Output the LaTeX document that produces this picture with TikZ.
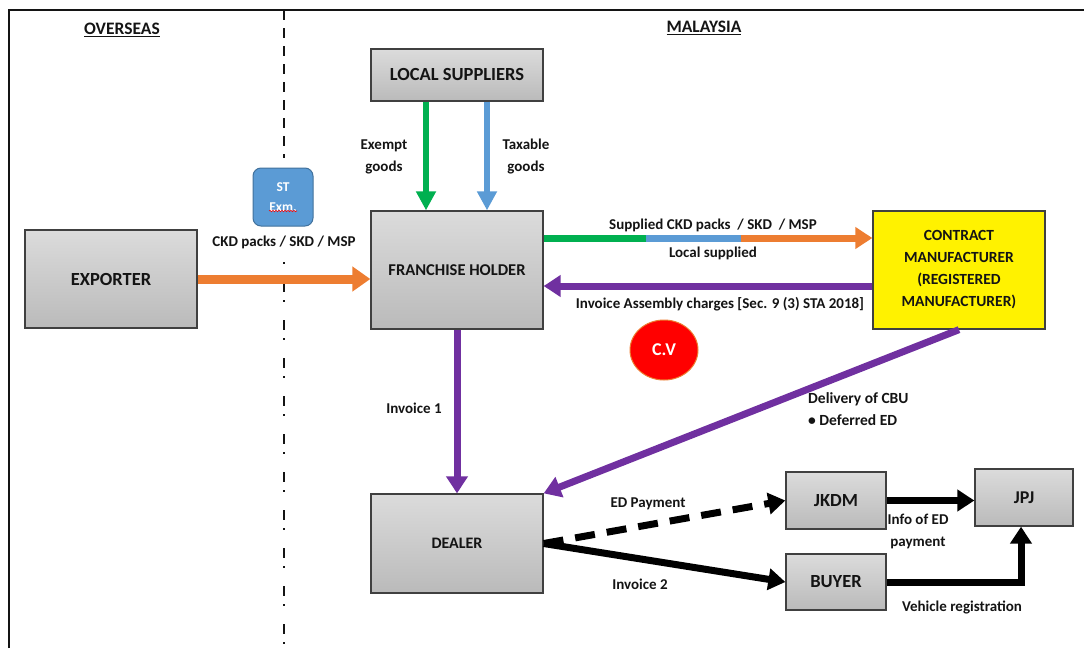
\documentclass[tikz,border=0pt]{standalone}
\usepackage{fontspec}
\setmainfont{Carlito}
\usetikzlibrary{arrows.meta,shapes.geometric,decorations.pathmorphing}

\definecolor{arrorange}{HTML}{ED7D31}
\definecolor{arrgreen}{HTML}{00B050}
\definecolor{arrblue}{HTML}{5B9BD5}
\definecolor{arrpurple}{HTML}{7030A0}
\definecolor{boxline}{HTML}{404040}
\definecolor{stline}{HTML}{41719C}
\definecolor{txt}{HTML}{141414}

\tikzset{
  box/.style={draw=boxline, line width=1.3pt, text=txt, align=center,
    font=\fontsize{16.5}{22}\selectfont\bfseries},
  greybox/.style={box, top color=black!14, bottom color=black!27},
  lbl/.style={text=txt, align=center, inner sep=1pt,
    font=\fontsize{15}{22}\selectfont\bfseries},
  head/.style={text=txt, font=\fontsize{17.5}{20}\selectfont\bfseries},
  fat/.style={line width=7pt, -{Triangle[width=21pt,length=17pt]}},
  thin arrow/.style={line width=6pt, -{Triangle[width=19pt,length=19pt]}}
}

\begin{document}
\begin{tikzpicture}[x=1pt,y=-1pt]
\useasboundingbox (0,0) rectangle (1084,648);
%\draw[step=50,gray,very thin] (0,0) grid (1084,648);

% frame and border line
\draw[line width=1.8pt, txt] (9,648) -- (9,10) -- (1084,10);
\draw[line width=2pt, txt, dash pattern=on 10pt off 8pt] (284,10) -- (284,158);
\draw[line width=2pt, txt, dash pattern=on 2pt off 18pt on 10pt off 8pt] (284,262) -- (284,648);

\node[head] (overseas) at (122,30) {\underline{OVERSEAS}};
\node[head] (malaysia) at (704,28) {\underline{MALAYSIA}};

% boxes
\node[greybox, minimum width=172pt, minimum height=98pt, font=\fontsize{18.5}{22}\selectfont\bfseries] (exporter) at (111,279) {EXPORTER};
\node[greybox, minimum width=172pt, minimum height=52pt, font=\fontsize{18.5}{22}\selectfont\bfseries] (locsup) at (457,75) {LOCAL SUPPLIERS};
\node[greybox, minimum width=172pt, minimum height=118pt] (franchise) at (457,270) {FRANCHISE HOLDER};
\node[box, fill=yellow, minimum width=172pt, minimum height=118pt, font=\fontsize{15.5}{22}\selectfont\bfseries] (contract) at (959,270) {CONTRACT\\MANUFACTURER\\(REGISTERED\\MANUFACTURER)};
\node[greybox, minimum width=172pt, minimum height=99pt, font=\fontsize{16}{22}\selectfont\bfseries] (dealer) at (457,543.5) {DEALER};
\node[greybox, minimum width=100pt, minimum height=57pt, font=\fontsize{18.5}{22}\selectfont\bfseries] (jkdm) at (836,500.5) {JKDM};
\node[greybox, minimum width=100pt, minimum height=56pt, font=\fontsize{18.5}{22}\selectfont\bfseries] (buyer) at (836,582) {BUYER};
\node[greybox, minimum width=98pt, minimum height=57pt, font=\fontsize{18}{22}\selectfont\bfseries] (jpj) at (1024,497.5) {JPJ};

\node[draw=stline, fill=arrblue, line width=1pt, rounded corners=8pt, minimum width=60pt, minimum height=58pt, text=white, align=center, font=\fontsize{13.5}{20}\selectfont\bfseries] (stexm) at (283,197) {ST\\Exm.};
\draw[red, line width=0.6pt, decorate, decoration={snake, amplitude=0.7pt, segment length=3pt}] ([shift={(-14,14)}]stexm.center) -- ([shift={(14,14)}]stexm.center);

\node[ellipse, draw=arrorange, fill=red, line width=1pt, minimum width=68pt, minimum height=60pt, text=white, font=\fontsize{18}{20}\selectfont\bfseries] (cv) at (664,350) {C.V};

% arrows
\draw[arrorange, line width=9pt, -{Triangle[width=24pt,length=18pt]}] (exporter.east) -- (exporter.east -| franchise.west);
\draw[thin arrow, arrgreen] ([xshift=-31pt]locsup.south) -- ([xshift=-31pt]franchise.north);
\draw[thin arrow, arrblue] ([xshift=30pt]locsup.south) -- ([xshift=30pt]franchise.north);

\coordinate (s0) at ([yshift=32pt]franchise.east);
\coordinate (s1) at ([xshift=102pt]s0);
\coordinate (s2) at ([xshift=197pt]s0);
\draw[line width=7pt, arrgreen] (s0) -- (s1);
\draw[line width=7pt, arrblue] (s1) -- (s2);
\draw[fat, arrorange] (s2) -- (s2 -| contract.west);

\draw[fat, arrpurple] ([yshift=-16pt]contract.west) -- ([yshift=-16pt]franchise.east);
\draw[fat, arrpurple] (franchise.south) -- (dealer.north);
\draw[fat, arrpurple] (contract.south) -- (dealer.north east);

\draw[fat, black, dash pattern=on 20pt off 12pt] (dealer.east) -- (jkdm.west);
\draw[fat, black] (dealer.east) -- (buyer.west);
\draw[fat, black] (jkdm.east) -- (jkdm.east -| jpj.west);
\draw[fat, black] (buyer.east) -| ([xshift=-3pt]jpj.south);

% labels
\node[lbl, fill=white, inner sep=3pt] (ckd) at (284,242) {CKD packs / SKD / MSP};
\node[lbl] (exempt) at (384,157) {Exempt\\goods};
\node[lbl] (taxable) at (526,157) {Taxable\\goods};
\node[lbl] (supplied) at (713,225) {Supplied CKD packs\ \ / SKD\ \ / MSP};
\node[lbl] (localsup) at (713,253) {Local supplied};
\node[lbl] (assembly) at (720,304) {Invoice Assembly charges [Sec. 9 (3) STA 2018]};
\node[lbl] (inv1) at (414,408) {Invoice 1};
\node[lbl, anchor=west, align=left, font=\fontsize{15.5}{22}\selectfont\bfseries] (delivery) at (807,409) {Delivery of CBU\\\textbullet\ Deferred ED};
\node[lbl] (edpay) at (648,504) {ED Payment};
\node[lbl] (inv2) at (640,584) {Invoice 2};
\node[lbl] (info) at (918,531) {Info of ED\\payment};
\node[lbl] (vehreg) at (962,607) {Vehicle registration};

\end{tikzpicture}
\end{document}
